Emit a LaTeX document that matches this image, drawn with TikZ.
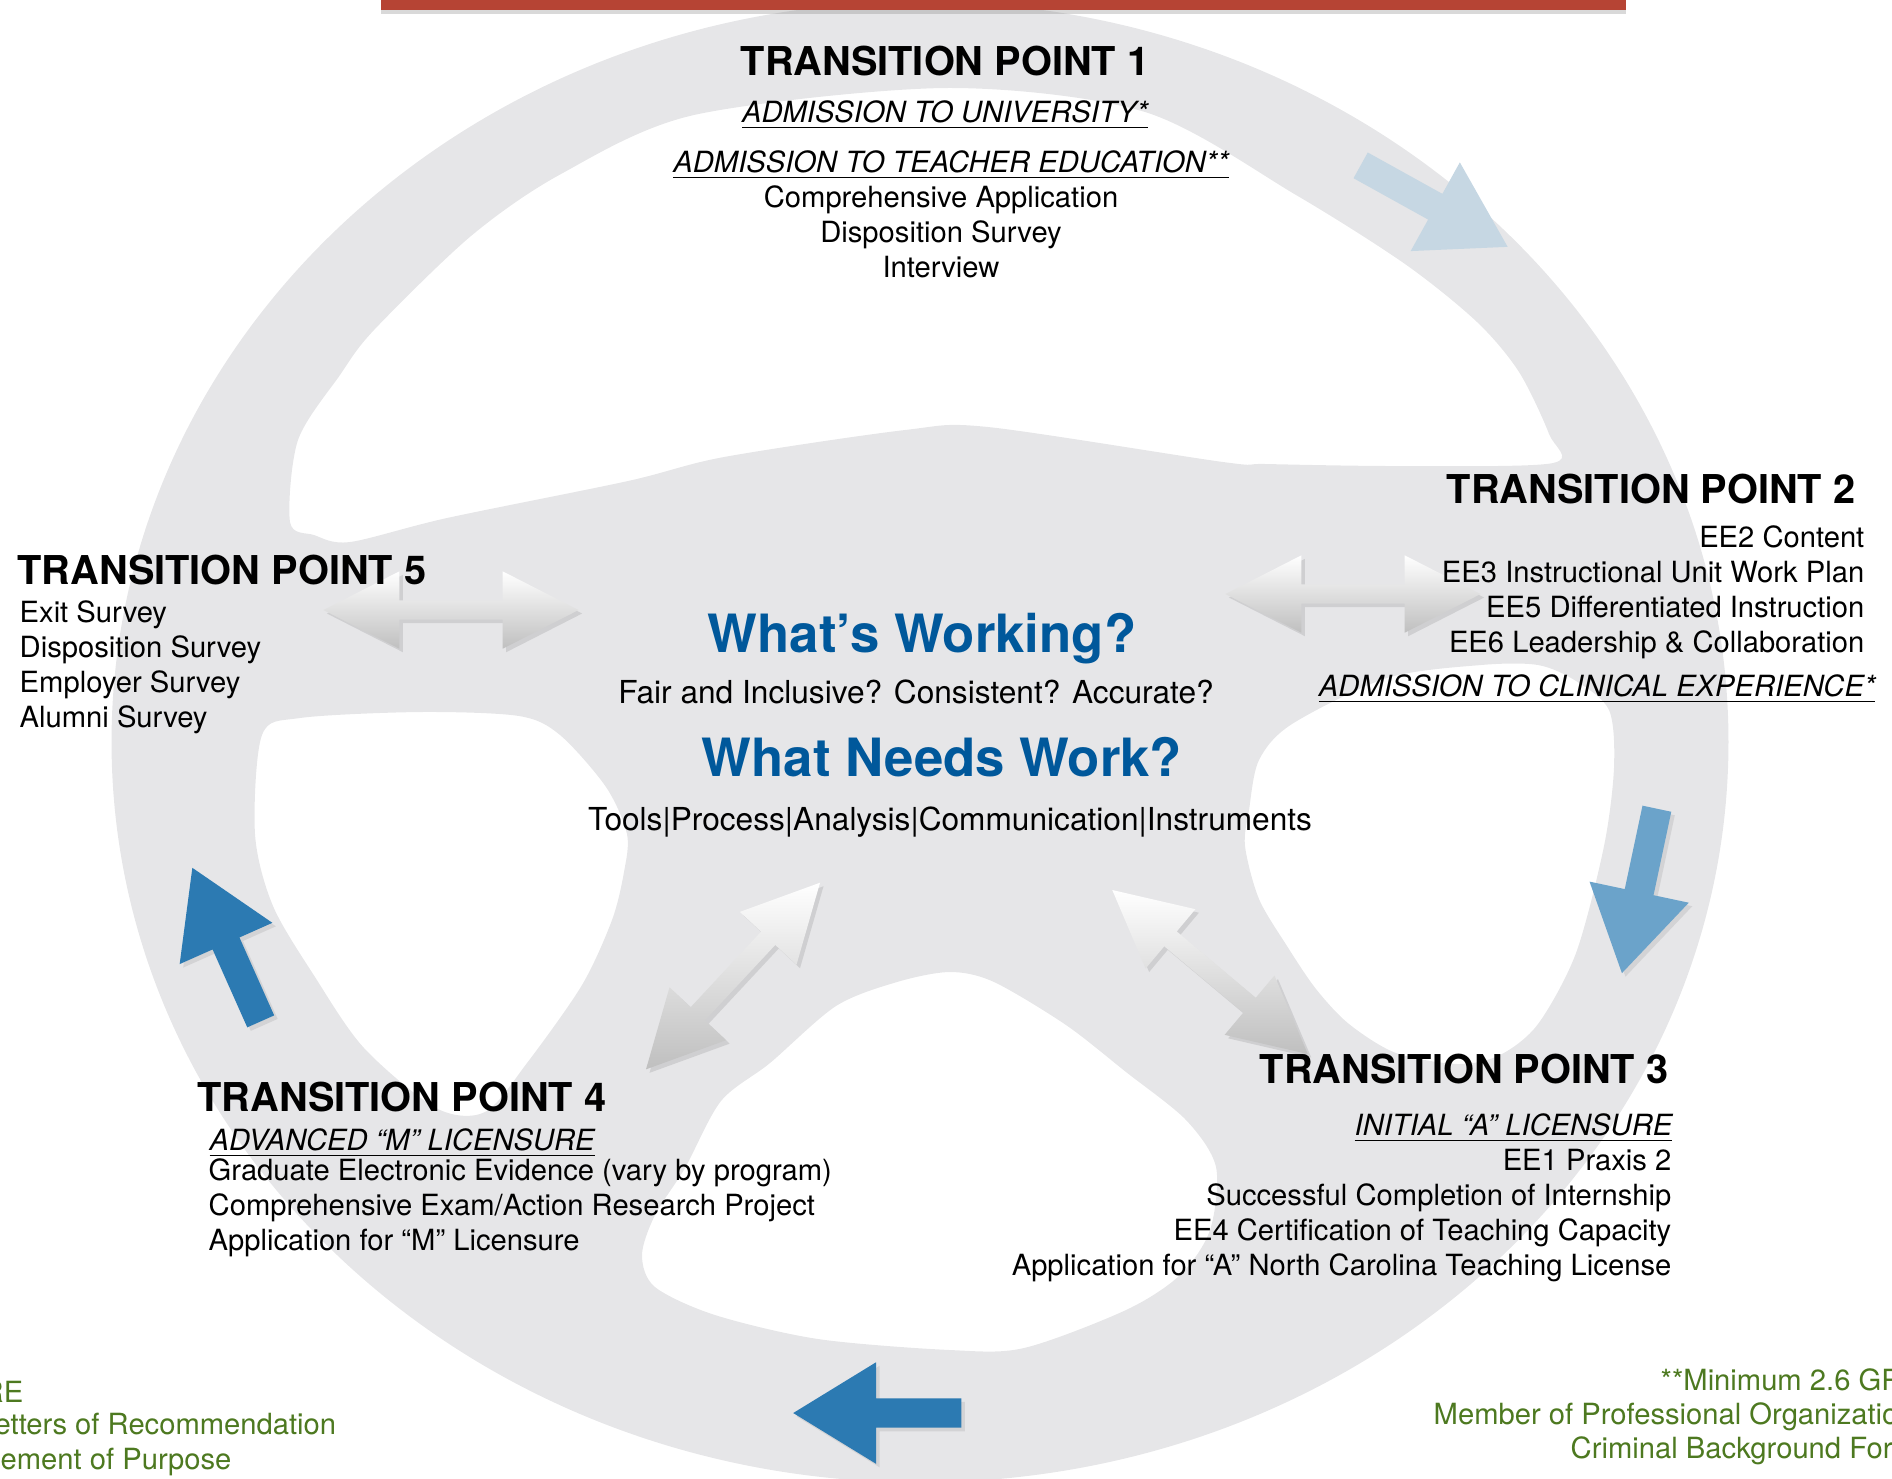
\documentclass[tikz,border=0pt]{standalone}
\usepackage{fontspec}
\setmainfont{TeX Gyre Heros}
\usetikzlibrary{shapes.arrows, shadows}

\definecolor{wheelgray}{RGB}{230,230,232}
\definecolor{barred}{RGB}{182,68,52}
\definecolor{qblue}{RGB}{0,88,155}
\definecolor{deepblue}{RGB}{44,122,178}
\definecolor{midblue}{RGB}{107,163,202}
\definecolor{paleblue}{RGB}{198,215,227}
\definecolor{notegreen}{RGB}{77,121,32}

\tikzset{
  tptitle/.style={inner sep=0pt, font=\fontsize{11.3}{13}\selectfont\bfseries},
  tpitem/.style={inner sep=0pt, font=\fontsize{8.3}{10}\selectfont},
  tphead/.style={inner sep=0pt, font=\fontsize{8.3}{10}\selectfont\itshape},
  bigq/.style={inner sep=0pt, text=qblue, font=\fontsize{15}{18}\selectfont\bfseries},
  midline/.style={inner sep=0pt, font=\fontsize{9}{11}\selectfont},
  greennote/.style={tpitem, text=notegreen},
  twoway/.style={double arrow, inner xsep=0pt, inner ysep=0.09cm, minimum height=2.55cm,
    double arrow head extend=0.29cm, double arrow tip angle=54,
    top color=white, bottom color=black!25,
    drop shadow={opacity=0.22, shadow xshift=1pt, shadow yshift=-1pt}},
  ringarrow/.style={single arrow, inner xsep=0pt, inner ysep=0.14cm, minimum height=1.68cm,
    single arrow head extend=0.36cm, single arrow tip angle=63, anchor=tail},
  softshadow/.style={drop shadow={opacity=0.18, shadow xshift=1pt, shadow yshift=-1pt}}
}

\begin{document}
\begin{tikzpicture}[x=0.01cm, y=-0.01cm]
    \useasboundingbox (0,0) rectangle (1892,1478);
    \clip (0,0) rectangle (1892,1478);

    % wheel
    \fill[wheelgray, even odd rule]
        (920,742) ellipse [x radius=8.08cm, y radius=7.4cm]
        plot[smooth cycle, tension=0.5] coordinates {(290,522) (298,440) (340,375) (374,330) (471,236)
            (561,174) (694,115) (946,88) (1145,112) (1296,195) (1405,264) (1477,322) (1519,372)
            (1549,434) (1553,463) (1400,466) (1266,464) (1223,462) (988,427) (905,430) (724,457)
            (628,481) (447,518) (350,542) (314,535)}
        plot[smooth cycle, tension=0.5] coordinates {(262,735) (300,718) (420,712) (519,716) (560,735)
            (606,787) (627,834) (624,872) (612,920) (582,985) (527,1063) (485,1112) (436,1108)
            (364,1048) (315,977) (273,906) (255,834)}
        plot[smooth cycle, tension=0.5] coordinates {(1292,724) (1387,678) (1481,665) (1538,665)
            (1576,681) (1609,710) (1614,767) (1604,846) (1576,953) (1538,1024) (1500,1055)
            (1458,1064) (1396,1053) (1349,1024) (1316,989) (1287,946) (1259,899) (1245,846)
            (1249,810) (1259,760)}
        plot[smooth cycle, tension=0.5] coordinates {(721,1101) (770,1063) (836,1006) (897,982)
            (950,972) (994,982) (1066,1025) (1126,1072) (1186,1120) (1216,1167) (1210,1230)
            (1180,1275) (1126,1310) (1024,1348) (950,1350) (818,1339) (715,1315) (655,1287)
            (642,1255) (655,1215) (685,1168)};

    \fill[barred, drop shadow={opacity=0.3, shadow yshift=-1.2pt, shadow xshift=0pt}] (381,-10) rectangle (1626,10);

    % arrows round the ring
    \node[ringarrow, fill=paleblue, rotate=-29] (turn12) at (1360,165) {};
    \node[ringarrow, fill=midblue, rotate=-102, softshadow] (turn23) at (1657,808) {};
    \node[ringarrow, fill=deepblue, rotate=180, softshadow] (turn34) at (962,1413) {};
    \node[ringarrow, fill=deepblue, rotate=114, softshadow] (turn45) at (261,1022) {};

    % arrows to the hub
    \node[twoway] (link5) at (451,610) {};
    \node[twoway] (link2) at (1353,594) {};
    \node[twoway, rotate=47] (link4) at (733,976) {};
    \node[twoway, rotate=-40] (link3) at (1210,972) {};

    % hub
    \node[bigq, anchor=base] (working) at (922,652) {What’s Working?};
    \node[midline, anchor=base] (fair) at (916,703) {Fair and Inclusive? Consistent? Accurate?};
    \node[bigq, anchor=base] (needs) at (942,776) {What Needs Work?};
    \node[midline, anchor=base] (tools) at (950,830) {Tools|Process|Analysis|Communication|Instruments};

    % transition point 1
    \node[tptitle, anchor=base] (tp1) at (945,75) {TRANSITION POINT 1};
    \node[tphead, anchor=base] (tp1-univ) at (945,122) {\underline{ADMISSION TO UNIVERSITY*}};
    \node[tphead, anchor=base] (tp1-ted) at (951,172) {\underline{ADMISSION TO TEACHER EDUCATION**}};
    \foreach \txt [count=\i] in {Comprehensive Application, Disposition Survey, Interview}
        \node[tpitem, anchor=base] (tp1-\i) at (941,172+35*\i) {\txt};

    % transition point 2
    \node[tptitle, anchor=base east] (tp2) at (1856,503) {TRANSITION POINT 2};
    \foreach \txt [count=\i] in {EE2 Content, EE3 Instructional Unit Work Plan,
            EE5 Differentiated Instruction, EE6 Leadership \& Collaboration}
        \node[tpitem, anchor=base east] (tp2-\i) at (1865,512+35*\i) {\txt};
    \node[tphead, anchor=base east] (tp2-clin) at (1876,696) {\underline{ADMISSION TO CLINICAL EXPERIENCE*}};

    % transition point 3
    \node[tptitle, anchor=base east] (tp3) at (1669,1083) {TRANSITION POINT 3};
    \node[tphead, anchor=base east] (tp3-lic) at (1673,1135) {\underline{INITIAL “A” LICENSURE}};
    \foreach \txt [count=\i] in {EE1 Praxis 2, Successful Completion of Internship,
            EE4 Certification of Teaching Capacity, Application for “A” North Carolina Teaching License}
        \node[tpitem, anchor=base east] (tp3-\i) at (1672,1135+35*\i) {\txt};

    % transition point 4
    \node[tptitle, anchor=base west] (tp4) at (197,1111) {TRANSITION POINT 4};
    \node[tphead, anchor=base west] (tp4-lic) at (209,1150) {\underline{ADVANCED “M” LICENSURE}};
    \foreach \txt [count=\i] in {Graduate Electronic Evidence (vary by program),
            Comprehensive Exam/Action Research Project, Application for “M” Licensure}
        \node[tpitem, anchor=base west] (tp4-\i) at (208,1145+35*\i) {\txt};

    % transition point 5
    \node[tptitle, anchor=base west] (tp5) at (17,584) {TRANSITION POINT 5};
    \foreach \txt [count=\i] in {Exit Survey, Disposition Survey, Employer Survey, Alumni Survey}
        \node[tpitem, anchor=base west] (tp5-\i) at (19,587+35*\i) {\txt};

    % notes
    \node[greennote, anchor=base west] (note-l1) at (-18,1402) {RE};
    \node[greennote, anchor=base west] (note-l2) at (-6,1434) {etters of Recommendation};
    \node[greennote, anchor=base west] (note-l3) at (0,1469) {ement of Purpose};
    \node[greennote, anchor=base west] (note-r1) at (1660,1390) {**Minimum 2.6 GP};
    \node[greennote, anchor=base west] (note-r2) at (1433,1424) {Member of Professional Organizatio};
    \node[greennote, anchor=base west] (note-r3) at (1570,1458) {Criminal Background For};
\end{tikzpicture}
\end{document}
